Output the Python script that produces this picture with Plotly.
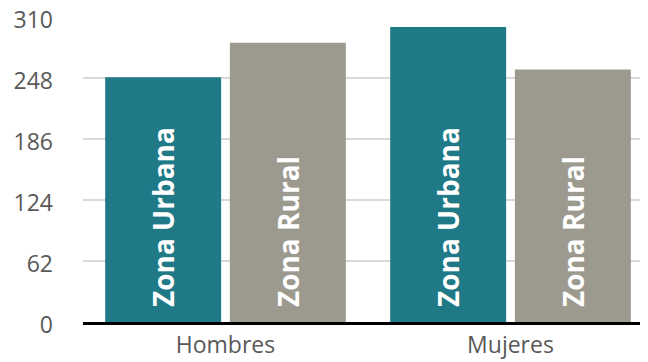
import plotly.graph_objects as go

categories = ["Hombres", "Mujeres"]
series_names = ["Zona Urbana", "Zona Rural"]
urbana = [249, 300]
rural = [284, 257]
y_ticks = [0, 62, 124, 186, 248, 310]

COL_URB = "#1f7986"
COL_RUR = "#9c9a8e"
COL_TEXT = "#595959"

# small leading gap so the label sits a bit above the baseline, like the original
LEAD = "\u00a0\u2009"

fig = go.Figure()
for name, vals, col in [(series_names[0], urbana, COL_URB), (series_names[1], rural, COL_RUR)]:
    fig.add_trace(
        go.Bar(
            x=categories,
            y=vals,
            name=name,
            marker={"color": col, "line": {"width": 0}},
            text=[LEAD + name] * len(vals),
            textposition="inside",
            insidetextanchor="start",
            textangle=-90,
            constraintext="none",
            textfont={"family": "Open Sans", "size": 28, "color": "white", "weight": "bold"},
            hoverinfo="skip",
        )
    )

# page body adds an 8px offset, margins compensate for it
fig.update_layout(
    width=648,
    height=362,
    barmode="group",
    bargap=0.125,
    bargroupgap=0.07,
    showlegend=False,
    paper_bgcolor="white",
    plot_bgcolor="white",
    margin={"l": 75, "r": 3, "t": 9, "b": 48, "autoexpand": False},
    font={"family": "Open Sans", "color": COL_TEXT, "size": 24},
    xaxis={
        "showline": True,
        "linecolor": "black",
        "linewidth": 3,
        "ticks": "",
        "automargin": False,
        "tickfont": {"size": 23, "color": COL_TEXT},
    },
    yaxis={
        "range": [0, 310.3],
        "tickvals": y_ticks,
        "showgrid": True,
        "gridcolor": "#d9d9d9",
        "gridwidth": 1.5,
        "zeroline": False,
        "ticks": "",
        "automargin": False,
        "ticklabelstandoff": 29,
        "ticklabelshift": 3,
        "ticklabeloverflow": "allow",
        "tickfont": {"size": 23, "color": COL_TEXT},
    },
)

fig.write_html("out.html")
